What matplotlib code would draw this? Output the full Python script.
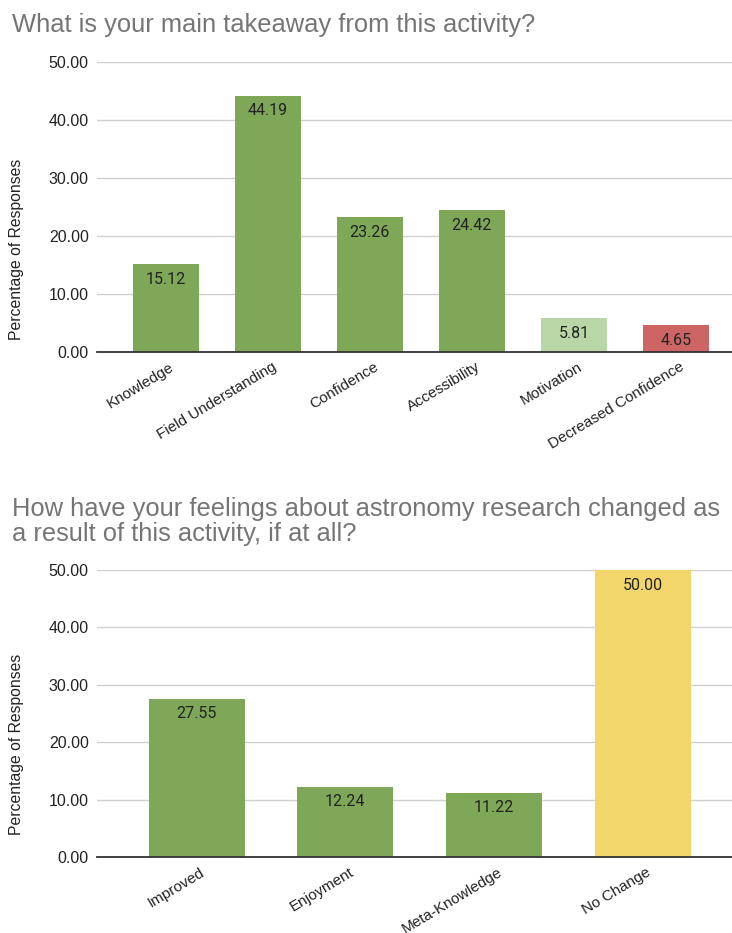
import matplotlib
matplotlib.use("Agg")
import matplotlib.pyplot as plt
from matplotlib.transforms import ScaledTranslation

# ---- data ----
cats1 = ["Knowledge", "Field Understanding", "Confidence", "Accessibility",
         "Motivation", "Decreased Confidence"]
vals1 = [15.12, 44.19, 23.26, 24.42, 5.81, 4.65]
colors1 = ["#7ea757", "#7ea757", "#7ea757", "#7ea757", "#b9d6a6", "#cd6565"]
title1 = "What is your main takeaway from this activity?"

cats2 = ["Improved", "Enjoyment", "Meta-Knowledge", "No Change"]
vals2 = [27.55, 12.24, 11.22, 50.00]
colors2 = ["#7ea757", "#7ea757", "#7ea757", "#f2d66b"]
title2_lines = ["How have your feelings about astronomy research changed as",
                "a result of this activity, if at all?"]

yticks = [0, 10, 20, 30, 40, 50]
ylabel = "Percentage of Responses"

W, H = 732, 933
DPI = 100
plt.rcParams["font.family"] = ["Liberation Sans", "DejaVu Sans"]
fig = plt.figure(figsize=(W / DPI, H / DPI), dpi=DPI)


def px_axes(left, right, y_top, y_bottom):
    return fig.add_axes([left / W, (H - y_bottom) / H,
                         (right - left) / W, (y_bottom - y_top) / H])


def draw(ax, cats, vals, colors, xlim, label_y):
    x = list(range(len(cats)))
    ax.bar(x, vals, width=0.645, color=colors, zorder=3)
    ax.set_xlim(*xlim)
    ax.set_ylim(0, 50)
    ax.set_yticks(yticks)
    ax.set_yticklabels([f"{v:.2f}" for v in yticks], fontsize=11.5, color="#222222")
    ax.yaxis.grid(True, color="#d0d0d0", linewidth=1.0, zorder=0)
    for s in ["top", "right", "left"]:
        ax.spines[s].set_visible(False)
    ax.spines["bottom"].set_color("#333333")
    ax.spines["bottom"].set_linewidth(1.3)
    ax.spines["bottom"].set_zorder(4)
    ax.tick_params(axis="y", length=0, pad=6)
    ax.tick_params(axis="x", length=0, pad=10)
    ax.set_xticks(x)
    ax.set_xticklabels(cats, rotation=31, ha="right", va="center",
                       rotation_mode="anchor", fontsize=11, color="#222222")
    off = ScaledTranslation(7 / DPI, 0, fig.dpi_scale_trans)
    for lab in ax.get_xticklabels():
        lab.set_transform(lab.get_transform() + off)
    for xi, v in zip(x, vals):
        ax.annotate(f"{v:.2f}", (xi, v), xytext=(0, -15), textcoords="offset pixels",
                    ha="center", va="center", fontsize=11.5, color="#222222",
                    family=["Roboto", "DejaVu Sans"], zorder=5)
    ax.set_ylabel(ylabel, fontsize=11.3, color="#222222")
    ax.yaxis.set_label_coords(-(97 - 24) / (732 - 97), label_y)


ax1 = px_axes(97, 732, 62, 352)
draw(ax1, cats1, vals1, colors1, (-0.676, 5.55), 0.355)
ax2 = px_axes(97, 732, 570, 857)
draw(ax2, cats2, vals2, colors2, (-0.67, 3.6), 0.394)

fig.text(12 / W, (H - 32) / H, title1, fontsize=18.4, color="#757575",
         ha="left", va="baseline")
for line, base in zip(title2_lines, [516, 541]):
    fig.text(12 / W, (H - base) / H, line, fontsize=18.4, color="#757575",
             ha="left", va="baseline")

fig.savefig("out.png", dpi=DPI)
